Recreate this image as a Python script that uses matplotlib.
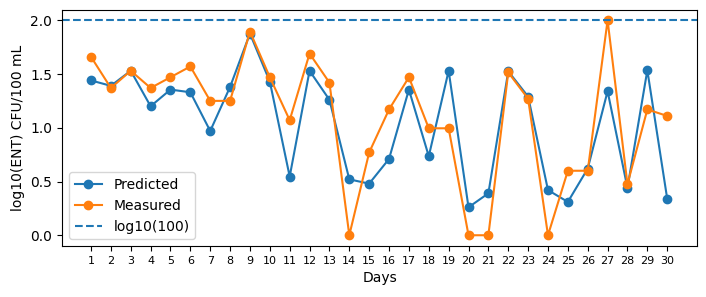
import matplotlib
matplotlib.use("Agg")
import matplotlib.pyplot as plt

days = list(range(1, 31))
predicted = [1.44, 1.39, 1.53, 1.20, 1.355, 1.33, 0.97, 1.38, 1.876, 1.43,
             0.546, 1.53, 1.26, 0.52, 0.48, 0.71, 1.355, 0.735, 1.53, 0.26,
             0.39, 1.525, 1.29, 0.42, 0.31, 0.62, 1.34, 0.44, 1.535, 0.34]
measured = [1.66, 1.37, 1.53, 1.37, 1.47, 1.57, 1.25, 1.25, 1.895, 1.47,
            1.07, 1.69, 1.42, 0.0, 0.77, 1.17, 1.47, 0.995, 0.995, 0.0,
            0.0, 1.515, 1.27, 0.0, 0.60, 0.60, 2.0, 0.475, 1.17, 1.11]
threshold = 2.0

fig = plt.figure(figsize=(7.06, 2.97), dpi=100)
ax = fig.add_axes([62/706, 51/297, 635/706, 236.5/297])
ax.plot(days, predicted, marker='o', label='Predicted')
ax.plot(days, measured, marker='o', label='Measured')
ax.axhline(threshold, linestyle='--', label='log10(100)')
ax.set_xticks(days)
ax.set_xticklabels([str(d) for d in days], fontsize=8)
ax.set_xlim(-0.46, 31.5)
ax.set_ylim(-0.1, 2.1)
ax.set_xlabel('Days')
ax.set_ylabel('log10(ENT) CFU/100 mL')
ax.legend(loc='lower left')
fig.savefig('out.png', dpi=100)
